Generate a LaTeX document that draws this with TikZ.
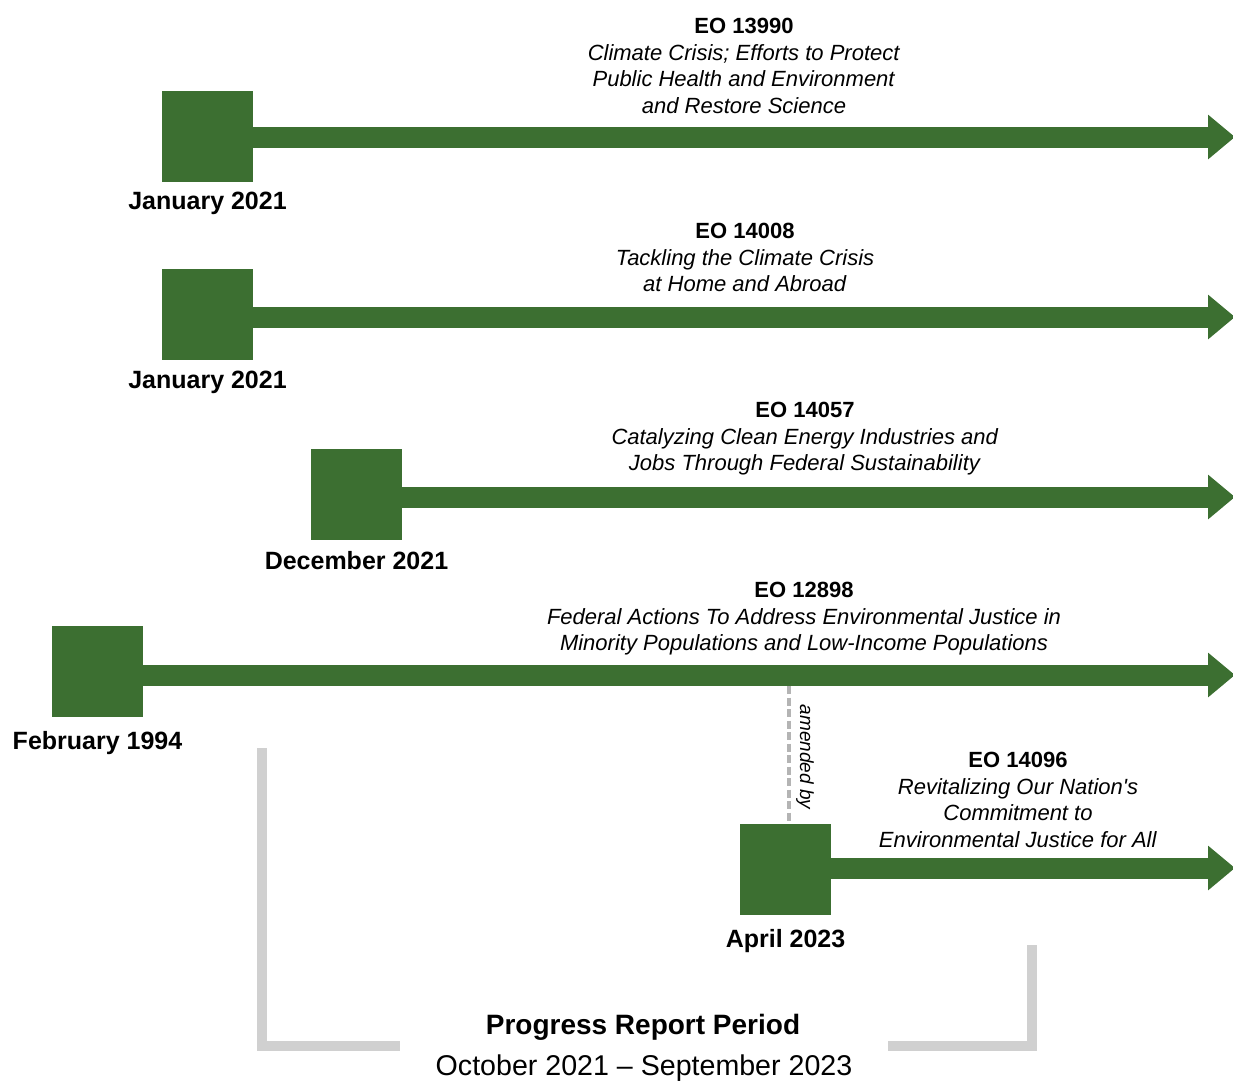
\documentclass[tikz,border=0pt]{standalone}
\usepackage{fontspec}
\setmainfont{Liberation Sans}
\usetikzlibrary{arrows.meta, positioning}
\definecolor{eoGreen}{HTML}{3C6F31}
\definecolor{barGray}{HTML}{D0D0D0}
\definecolor{dashGray}{HTML}{B4B4B4}
\tikzset{
    eoBox/.style={rectangle, fill=eoGreen, inner sep=0pt, minimum size=91pt},
    eoArrow/.style={-{Triangle[length=27pt, width=43pt]}, draw=eoGreen, line width=21pt},
    eoTitle/.style={anchor=north, inner sep=0pt, align=center, font=\fontsize{22}{26.7}\selectfont},
    dateLabel/.style={font=\fontsize{25}{29}\selectfont\bfseries, inner sep=0pt, label distance=11pt},
    amendLink/.style={draw=dashGray, line width=3.5pt, dash pattern=on 8pt off 3.5pt},
    periodBar/.style={draw=barGray, line width=10pt, line join=miter},
}

\begin{document}
\begin{tikzpicture}[x=1pt, y=-1pt]
        \useasboundingbox (0,0) rectangle (1233,1080);

        % squares with dates
        \node[eoBox, label={[dateLabel, label distance=10pt]below:January 2021}] (jan21a) at (207.5,136.5) {};
        \node[eoBox, label={[dateLabel]below:January 2021}] (jan21b) at (207.5,314.5) {};
        \node[eoBox, label={[dateLabel, label distance=11pt]below:December 2021}] (dec21) at (356.5,494.5) {};
        \node[eoBox, label={[dateLabel, label distance=14pt]below:February 1994}] (feb94) at (97.5,671.5) {};
        \node[eoBox, label={[dateLabel, label distance=14pt]below:April 2023}] (apr23) at (785.5,869.5) {};

        \coordinate (end1) at (1235,137);
        \coordinate (end2) at (1235,317);
        \coordinate (end3) at (1235,497);
        \coordinate (end4) at (1235,675);
        \coordinate (end5) at (1235,868);

        \draw[eoArrow] (jan21a.east |- end1) -- (end1);
        \draw[eoArrow] (jan21b.east |- end2) -- (end2);
        \draw[eoArrow] (dec21.east |- end3) -- (end3);
        \draw[eoArrow] (feb94.east |- end4) -- (end4);
        \draw[eoArrow] (apr23.east |- end5) -- (end5);

        % order titles
        \node[eoTitle] (eo13990) at (744,18) {\textbf{EO 13990}\\\textit{Climate Crisis; Efforts to Protect}\\\textit{Public Health and Environment}\\\textit{and Restore Science}};
        \node[eoTitle] (eo14008) at (745,223) {\textbf{EO 14008}\\\textit{Tackling the Climate Crisis}\\\textit{at Home and Abroad}};
        \node[eoTitle] (eo14057) at (805,402) {\textbf{EO 14057}\\\textit{Catalyzing Clean Energy Industries and}\\\textit{Jobs Through Federal Sustainability}};
        \node[eoTitle] (eo12898) at (804,582) {\textbf{EO 12898}\\\textit{Federal Actions To Address Environmental Justice in}\\\textit{Minority Populations and Low-Income Populations}};
        \node[eoTitle] (eo14096) at (1018,752) {\textbf{EO 14096}\\\textit{Revitalizing Our Nation\textquotesingle s}\\\textit{Commitment to}\\\textit{Environmental Justice for All}};

        % amendment
        \coordinate (amendTop) at (789,686);
        \draw[amendLink] (amendTop) -- (amendTop |- apr23.north);
        \node[rotate=-90, inner sep=0pt, font=\fontsize{19}{22}\selectfont\itshape] (amendNote) at (805,757) {amended by};

        % report period bracket
        \draw[periodBar] (262,748) -- (262,1046) -- (400,1046);
        \draw[periodBar] (888,1046) -- (1032,1046) -- (1032,945);
        \node[anchor=base, inner sep=0pt, font=\fontsize{28}{32}\selectfont\bfseries] (periodTitle) at (643,1034) {Progress Report Period};
        \node[anchor=base, inner sep=0pt, font=\fontsize{28.6}{32}\selectfont] (periodDates) at (644,1075) {October 2021 -- September 2023};

    \end{tikzpicture}
\end{document}
